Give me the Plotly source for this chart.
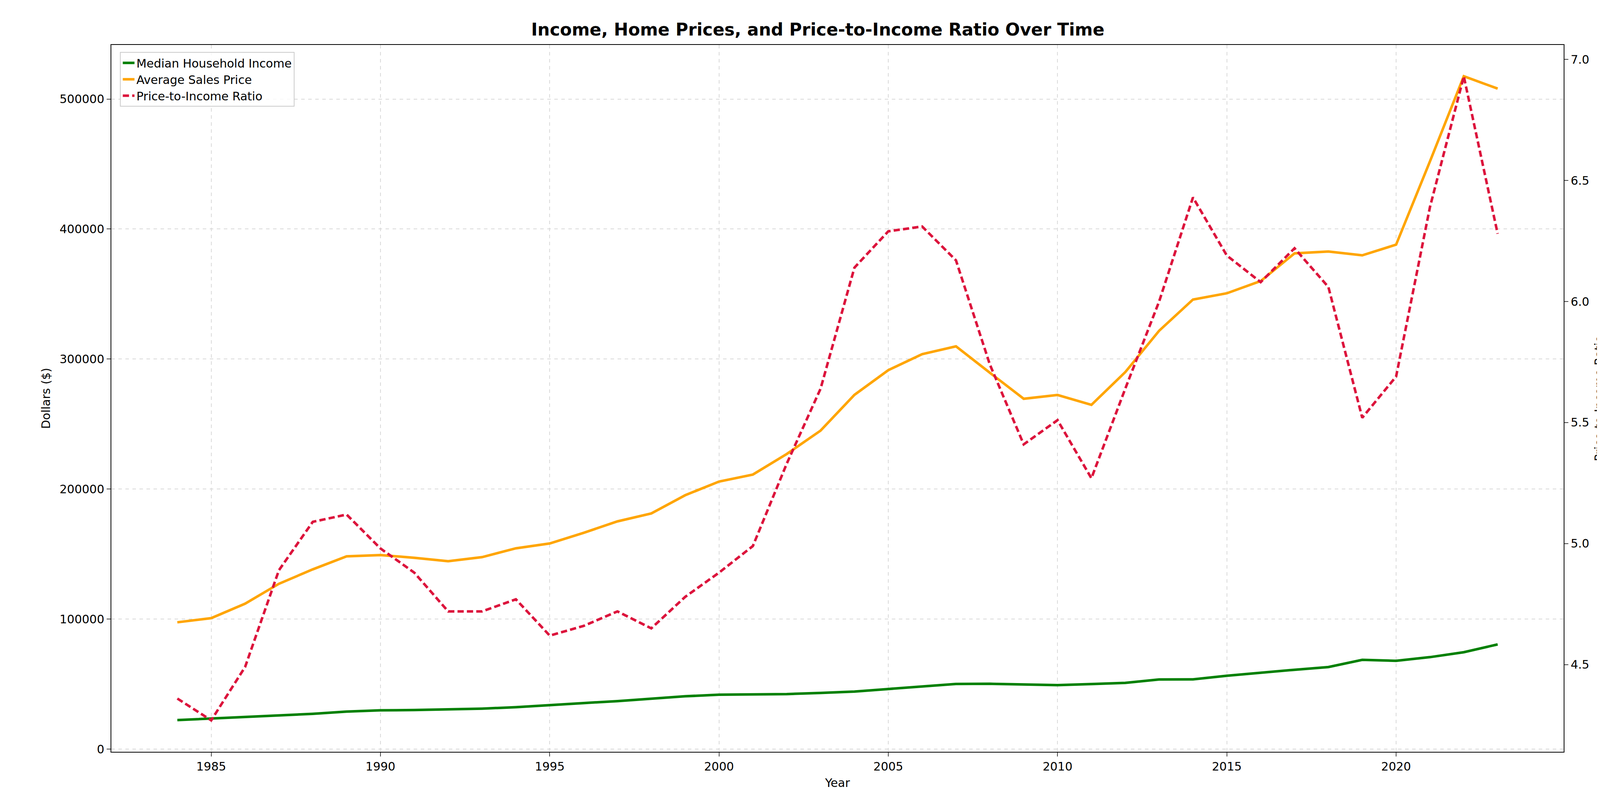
import plotly.graph_objects as go

years = list(range(1984, 2024))
median_income = [22400, 23600, 24900, 26000, 27200, 28900, 29900, 30100, 30600, 31200,
                 32300, 34100, 35500, 37000, 38900, 40700, 41900, 42200, 42400, 43300,
                 44300, 46300, 48200, 50200, 50300, 49800, 49300, 50100, 51000, 53600,
                 53700, 56500, 59000, 61100, 63200, 68700, 68000, 70800, 74600, 80600]
avg_price = [97600, 100800, 111900, 127200, 138300, 148300, 149300, 147200, 144600, 147700,
             154500, 158200, 166400, 175200, 181300, 195300, 205800, 211200, 227000, 245000,
             272500, 291500, 303800, 309800, 289500, 269500, 272400, 264800, 290000, 321800,
             345800, 350600, 360000, 381300, 382700, 379800, 388000, 452000, 517500, 508000]
ratio = [4.36, 4.27, 4.49, 4.89, 5.09, 5.12, 4.98, 4.88, 4.72, 4.72,
         4.77, 4.62, 4.66, 4.72, 4.65, 4.78, 4.88, 4.99, 5.33, 5.64,
         6.14, 6.29, 6.31, 6.17, 5.74, 5.41, 5.51, 5.27, 5.64, 6.00,
         6.43, 6.19, 6.08, 6.22, 6.06, 5.52, 5.69, 6.39, 6.93, 6.28]

font = dict(family="DejaVu Sans", size=30, color="black")
fig = go.Figure()
fig.add_trace(go.Scatter(x=years, y=median_income, name="Median Household Income",
                         mode="lines", line=dict(color="green", width=6.5)))
fig.add_trace(go.Scatter(x=years, y=avg_price, name="Average Sales Price",
                         mode="lines", line=dict(color="orange", width=6.5)))
fig.add_trace(go.Scatter(x=years, y=ratio, name="Price-to-Income Ratio", yaxis="y2",
                         mode="lines", line=dict(color="crimson", width=6.5, dash="16px,8px")))

axis_common = dict(showline=True, linecolor="black", linewidth=2,
                   ticks="outside", ticklen=10, tickwidth=2, tickfont=font, zeroline=False)
fig.update_layout(
    width=4171, height=2074, plot_bgcolor="white", paper_bgcolor="white", font=font,
    margin=dict(l=277, r=176, t=107, b=157),
    title=dict(text="<b>Income, Home Prices, and Price-to-Income Ratio Over Time</b>",
               x=0.5, xanchor="center", y=0.975, font=dict(family="DejaVu Sans", size=44)),
    xaxis=dict(**axis_common, range=[1982.05, 2024.95], dtick=5, tick0=1985, mirror=True,
               showgrid=True, gridcolor="#d9d9d9", griddash="dash", gridwidth=2,
               title=dict(text="Year", font=font)),
    yaxis=dict(**axis_common, range=[-2000, 541600], dtick=100000, tickformat="d", mirror=True,
               showgrid=True, gridcolor="#d9d9d9", griddash="dash", gridwidth=2,
               title=dict(text="Dollars ($)", font=font)),
    yaxis2=dict(**axis_common, overlaying="y", side="right", range=[4.14, 7.06], dtick=0.5,
                tickformat=".1f", showgrid=False, title=dict(text="Price-to-Income Ratio", font=font)),
    legend=dict(x=0.006, y=0.99, xanchor="left", yanchor="top", bgcolor="rgba(255,255,255,0.8)",
                bordercolor="#cccccc", borderwidth=2, font=font),
)
fig.write_html("out.html")
